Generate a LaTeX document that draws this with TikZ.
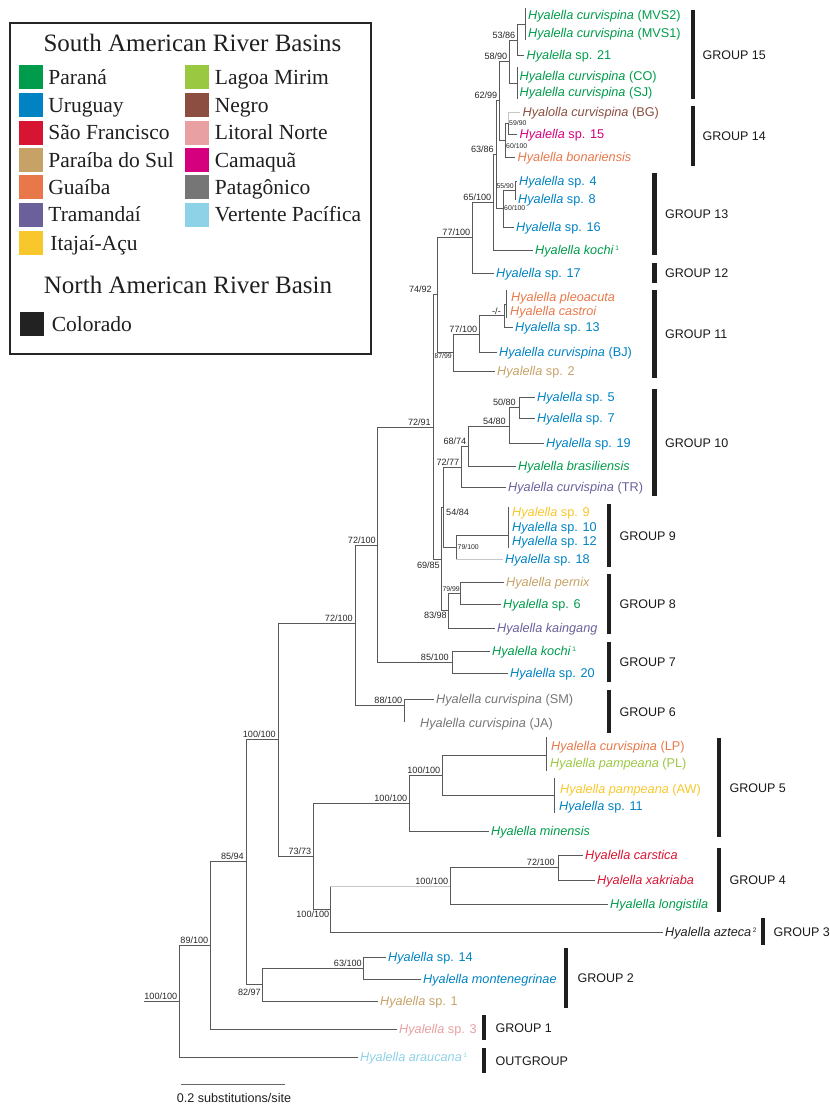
\documentclass[tikz,border=0pt]{standalone}
\usepackage{fontspec}
\usepackage{xcolor}
\usepackage{tikz}
\usetikzlibrary{positioning}
\newfontfamily\treefont{Liberation Sans}
\newfontfamily\legfont{Liberation Serif}
\definecolor{parana}{RGB}{0,155,75}
\definecolor{uruguay}{RGB}{0,130,195}
\definecolor{saofrancisco}{RGB}{215,20,50}
\definecolor{paraiba}{RGB}{198,162,103}
\definecolor{guaiba}{RGB}{232,120,74}
\definecolor{tramandai}{RGB}{108,96,155}
\definecolor{itajai}{RGB}{247,199,43}
\definecolor{lagoamirim}{RGB}{155,200,65}
\definecolor{negro}{RGB}{139,78,64}
\definecolor{litoral}{RGB}{232,160,162}
\definecolor{camaqua}{RGB}{212,0,125}
\definecolor{patagonico}{RGB}{118,118,118}
\definecolor{pacifica}{RGB}{142,210,232}
\definecolor{colorado}{RGB}{34,34,34}
\newcommand{\Hya}{\textit{Hyalella}}
\newcommand{\tipnote}[1]{\kern1.5pt\raisebox{4.5pt}{\fontsize{6.5}{7}\selectfont #1}}
\tikzstyle{branch} = [draw=black!65, line width=0.8pt]
\tikzstyle{faint} = [draw=black!22, line width=0.8pt]
\tikzstyle{tip} = [anchor=west, inner xsep=2.5pt, inner ysep=0pt, text height=9.5pt, text depth=0.4pt, font=\treefont\fontsize{12.7}{14}\selectfont]
\tikzstyle{supp} = [inner sep=0pt, text height=6.6pt, text depth=0pt, text=black!85, font=\treefont\fontsize{9.1}{10}\selectfont]
\tikzstyle{smallsupp} = [supp, text height=5pt, font=\treefont\fontsize{6.9}{8}\selectfont]
\tikzstyle{groupbar} = [fill=black!88, inner sep=0pt, minimum width=4.5pt]
\tikzstyle{grouplabel} = [inner sep=0pt, text height=9pt, text depth=0pt, text=black!90, font=\treefont\fontsize{12.5}{14}\selectfont]
\tikzstyle{swatch} = [minimum size=24pt, inner sep=0pt]
\tikzstyle{legtext} = [inner sep=0pt, text height=15pt, text depth=0.5pt, text=black!88, font=\legfont\fontsize{21.5}{24}\selectfont]
\tikzstyle{legtitle} = [inner sep=0pt, text height=17pt, text depth=0.5pt, text=black!88, font=\legfont\fontsize{25}{28}\selectfont]
\tikzstyle{scalebar} = [draw=black!60, line width=1pt]
\tikzstyle{scaletext} = [inner sep=0pt, text=black!88, font=\treefont\fontsize{12.6}{14}\selectfont]

\begin{document}
\begin{tikzpicture}[x=1pt, y=-1pt]
\useasboundingbox (0,0) rectangle (830,1106);

\draw [draw=black!85, line width=1.6pt] (10,23) rectangle (371,354);
\node (titleSouth) [legtitle] at (192.5,43) {South American River Basins};
\node (swParana) [swatch, fill=parana] at (31,77) {};
\node (lbParana) [legtext, right=5pt of swParana] {Paraná};
\node (swUruguay) [swatch, fill=uruguay] at (31,105) {};
\node (lbUruguay) [legtext, right=5pt of swUruguay] {Uruguay};
\node (swSaoFr) [swatch, fill=saofrancisco] at (31,132.5) {};
\node (lbSaoFr) [legtext, right=5pt of swSaoFr] {São Francisco};
\node (swParaiba) [swatch, fill=paraiba] at (31,160) {};
\node (lbParaiba) [legtext, right=5pt of swParaiba] {Paraíba do Sul};
\node (swGuaiba) [swatch, fill=guaiba] at (31,187) {};
\node (lbGuaiba) [legtext, right=5pt of swGuaiba] {Guaíba};
\node (swTraman) [swatch, fill=tramandai] at (31,214.5) {};
\node (lbTraman) [legtext, right=5pt of swTraman] {Tramandaí};
\node (swItajai) [swatch, fill=itajai] at (31,243) {};
\node (lbItajai) [legtext, right=7pt of swItajai] {Itajaí-Açu};
\node (swLagoa) [swatch, fill=lagoamirim] at (196.5,77) {};
\node (lbLagoa) [legtext, right=6pt of swLagoa] {Lagoa Mirim};
\node (swNegro) [swatch, fill=negro] at (196.5,105) {};
\node (lbNegro) [legtext, right=6pt of swNegro] {Negro};
\node (swLitoral) [swatch, fill=litoral] at (196.5,132.5) {};
\node (lbLitoral) [legtext, right=6pt of swLitoral] {Litoral Norte};
\node (swCamaqua) [swatch, fill=camaqua] at (196.5,160) {};
\node (lbCamaqua) [legtext, right=6pt of swCamaqua] {Camaquã};
\node (swPatag) [swatch, fill=patagonico] at (196.5,187) {};
\node (lbPatag) [legtext, right=6pt of swPatag] {Patagônico};
\node (swPacif) [swatch, fill=pacifica] at (196.5,214.5) {};
\node (lbPacif) [legtext, right=6pt of swPacif] {Vertente Pacífica};
\node (titleNorth) [legtitle] at (188,285) {North American River Basin};
\node (swColorado) [swatch, fill=colorado] at (31.5,324) {};
\node (lbColorado) [legtext, right=8pt of swColorado] {Colorado};

\coordinate (nMVS) at (525,24);
\coordinate (mvsTop) at (525,8);
\coordinate (mvsBot) at (525,40);
\coordinate (n53) at (517,40);
\coordinate (nCOSJ) at (517,83);
\coordinate (cosjTop) at (517,67);
\coordinate (cosjBot) at (517,99);
\coordinate (n58) at (509,61);
\coordinate (n59) at (508,123);
\coordinate (n60a) at (505,140);
\coordinate (n62) at (499,100);
\coordinate (n55) at (515,190);
\coordinate (n60b) at (503,208);
\coordinate (n63) at (496,154);
\coordinate (n65) at (493,202);
\coordinate (n77a) at (472,237);
\coordinate (nPC) at (506,304);
\coordinate (pcTop) at (506,290);
\coordinate (pcBot) at (506,318);
\coordinate (nMinus) at (504,315);
\coordinate (n77b) at (479,334);
\coordinate (n87) at (453,352);
\coordinate (n74) at (437,294);
\coordinate (n50) at (519,407);
\coordinate (n54b) at (509,426);
\coordinate (n68) at (468,446);
\coordinate (n72b) at (461,467);
\coordinate (nG9) at (508,535);
\coordinate (g9Top) at (508,507);
\coordinate (g9Bot) at (508,548);
\coordinate (n79a) at (456,547);
\coordinate (n54a) at (443,507);
\coordinate (n79b) at (460,593);
\coordinate (n83) at (448,610);
\coordinate (n69) at (441,559);
\coordinate (n72a) at (433,427);
\coordinate (n85a) at (452,662);
\coordinate (n72c) at (377,545);
\coordinate (nSMJA) at (404,705);
\coordinate (jaEnd) at (404,722);
\coordinate (n72d) at (355,623);
\coordinate (nLPPL) at (546,755);
\coordinate (lpTop) at (546,737);
\coordinate (lpBot) at (546,771);
\coordinate (nAWSp) at (554,795);
\coordinate (awTop) at (554,778);
\coordinate (awBot) at (554,813);
\coordinate (n100f) at (442,775);
\coordinate (n100e) at (409,803);
\coordinate (nCX) at (558,867);
\coordinate (n100d) at (450,886);
\coordinate (n100c) at (330,909);
\coordinate (n73) at (313,856);
\coordinate (n100b) at (278,739);
\coordinate (n63c) at (363,968);
\coordinate (n82) at (262,984);
\coordinate (n85b) at (246,861);
\coordinate (n89) at (210,945);
\coordinate (nRoot) at (179,1001);
\coordinate (rootStub) at (144,1001);

\node (tMVS2) [tip, text=parana] at (525.5,15) {\textit{Hyalella curvispina} (MVS2)};
\node (tMVS1) [tip, text=parana] at (525.5,33) {\textit{Hyalella curvispina} (MVS1)};
\node (tSp21) [tip, text=parana] at (524,55) {\Hya{} sp. 21};
\node (tCO) [tip, text=parana] at (517,76) {\textit{Hyalella curvispina} (CO)};
\node (tSJ) [tip, text=parana] at (517,92) {\textit{Hyalella curvispina} (SJ)};
\node (tBG) [tip, text=negro] at (520,112) {\textit{Hyalolla curvispina} (BG)};
\node (tSp15) [tip, text=camaqua] at (517,134) {\Hya{} sp. 15};
\node (tBonar) [tip, text=guaiba] at (515,157) {\textit{Hyalella bonariensis}};
\node (tSp4) [tip, text=uruguay] at (516.5,181) {\Hya{} sp. 4};
\node (tSp8) [tip, text=uruguay] at (515.5,199) {\Hya{} sp. 8};
\node (tSp16) [tip, text=uruguay] at (513.5,227) {\Hya{} sp. 16};
\node (tKochiA) [tip, text=parana] at (532.5,250) {\textit{Hyalella kochi}\tipnote{1}};
\node (tSp17) [tip, text=uruguay] at (493.5,273) {\Hya{} sp. 17};
\node (tPleo) [tip, text=guaiba] at (508.5,297) {\textit{Hyalella pleoacuta}};
\node (tCastroi) [tip, text=guaiba] at (507.5,311) {\textit{Hyalella castroi}};
\node (tSp13) [tip, text=uruguay] at (512.5,327) {\Hya{} sp. 13};
\node (tBJ) [tip, text=uruguay] at (496.5,352) {\textit{Hyalella curvispina} (BJ)};
\node (tSp2) [tip, text=paraiba] at (494.5,371) {\Hya{} sp. 2};
\node (tSp5) [tip, text=uruguay] at (534.5,397) {\Hya{} sp. 5};
\node (tSp7) [tip, text=uruguay] at (534.5,418) {\Hya{} sp. 7};
\node (tSp19) [tip, text=uruguay] at (543.5,443) {\Hya{} sp. 19};
\node (tBrasil) [tip, text=parana] at (515.5,466) {\textit{Hyalella brasiliensis}};
\node (tTR) [tip, text=tramandai] at (505.5,487) {\textit{Hyalella curvispina} (TR)};
\node (tSp9) [tip, text=itajai] at (509.5,512) {\Hya{} sp. 9};
\node (tSp10) [tip, text=uruguay] at (509.5,527) {\Hya{} sp. 10};
\node (tSp12) [tip, text=uruguay] at (509.5,541) {\Hya{} sp. 12};
\node (tSp18) [tip, text=uruguay] at (502.5,559) {\Hya{} sp. 18};
\node (tPernix) [tip, text=paraiba] at (503.5,582) {\textit{Hyalella pernix}};
\node (tSp6) [tip, text=parana] at (500.5,604) {\Hya{} sp. 6};
\node (tKaing) [tip, text=tramandai] at (494.5,628) {\textit{Hyalella kaingang}};
\node (tKochiB) [tip, text=parana] at (489.5,651) {\textit{Hyalella kochi}\tipnote{1}};
\node (tSp20) [tip, text=uruguay] at (507.5,673) {\Hya{} sp. 20};
\node (tSM) [tip, text=patagonico] at (433.5,699) {\textit{Hyalella curvispina} (SM)};
\node (tJA) [tip, text=patagonico] at (417.5,723) {\textit{Hyalella curvispina} (JA)};
\node (tLP) [tip, text=guaiba] at (548.5,746) {\textit{Hyalella curvispina} (LP)};
\node (tPL) [tip, text=lagoamirim] at (547.5,763) {\textit{Hyalella pampeana} (PL)};
\node (tAW) [tip, text=itajai] at (557.5,789) {\textit{Hyalella pampeana} (AW)};
\node (tSp11) [tip, text=uruguay] at (556.5,806) {\Hya{} sp. 11};
\node (tMinen) [tip, text=parana] at (488.5,831) {\textit{Hyalella minensis}};
\node (tCarst) [tip, text=saofrancisco] at (582.5,855) {\textit{Hyalella carstica}};
\node (tXakr) [tip, text=saofrancisco] at (594.5,880) {\textit{Hyalella xakriaba}};
\node (tLongi) [tip, text=parana] at (607.5,904) {\textit{Hyalella longistila}};
\node (tAzteca) [tip, text=colorado] at (662.5,932) {\textit{Hyalella azteca}\tipnote{2}};
\node (tSp14) [tip, text=uruguay] at (385.5,957) {\Hya{} sp. 14};
\node (tMonte) [tip, text=uruguay] at (420.5,979) {\textit{Hyalella montenegrinae}};
\node (tSp1) [tip, text=paraiba] at (377.5,1001) {\Hya{} sp. 1};
\node (tSp3) [tip, text=litoral] at (396.5,1029) {\Hya{} sp. 3};
\node (tArauc) [tip, text=pacifica] at (357.5,1057) {\textit{Hyalella araucana}\tipnote{1}};

\draw [branch] (mvsTop) -- (mvsBot);
\draw [branch] (n53) |- (nMVS);
\draw [branch] (n53) |- (tSp21.west);
\draw [branch] (cosjTop) -- (cosjBot);
\draw [branch] (n58) |- (n53);
\draw [branch] (n58) |- (nCOSJ);
\draw [faint] (n59) |- (tBG.west);
\draw [branch] (n59) |- (tSp15.west);
\draw [branch] (n60a) |- (n59);
\draw [branch] (n60a) |- (tBonar.west);
\draw [branch] (n62) |- (n58);
\draw [branch] (n62) |- (n60a);
\draw [branch] (n55) |- (tSp4.west);
\draw [branch] (n55) |- (tSp8.west);
\draw [branch] (n60b) |- (n55);
\draw [branch] (n60b) |- (tSp16.west);
\draw [branch] (n63) |- (n62);
\draw [branch] (n63) |- (n60b);
\draw [branch] (n65) |- (n63);
\draw [branch] (n65) |- (tKochiA.west);
\draw [branch] (n77a) |- (n65);
\draw [branch] (n77a) |- (tSp17.west);
\draw [branch] (pcTop) -- (pcBot);
\draw [branch] (nMinus) |- (nPC);
\draw [branch] (nMinus) |- (tSp13.west);
\draw [branch] (n77b) |- (nMinus);
\draw [branch] (n77b) |- (tBJ.west);
\draw [branch] (n87) |- (n77b);
\draw [branch] (n87) |- (tSp2.west);
\draw [branch] (n74) |- (n77a);
\draw [branch] (n74) |- (n87);
\draw [branch] (n50) |- (tSp5.west);
\draw [branch] (n50) |- (tSp7.west);
\draw [branch] (n54b) |- (n50);
\draw [branch] (n54b) |- (tSp19.west);
\draw [branch] (n68) |- (n54b);
\draw [branch] (n68) |- (tBrasil.west);
\draw [branch] (n72b) |- (n68);
\draw [branch] (n72b) |- (tTR.west);
\draw [branch] (g9Top) -- (g9Bot);
\draw [branch] (n79a) |- (nG9);
\draw [branch] (n79a) -- (n79a |- tSp18);
\draw [faint] (n79a |- tSp18) -- (tSp18.west);
\draw [branch] (n54a) |- (n72b);
\draw [branch] (n54a) |- (n79a);
\draw [branch] (n79b) |- (tPernix.west);
\draw [branch] (n79b) |- (tSp6.west);
\draw [branch] (n83) |- (n79b);
\draw [branch] (n83) |- (tKaing.west);
\draw [branch] (n69) |- (n54a);
\draw [branch] (n69) |- (n83);
\draw [branch] (n72a) |- (n74);
\draw [branch] (n72a) |- (n69);
\draw [branch] (n85a) |- (tKochiB.west);
\draw [branch] (n85a) |- (tSp20.west);
\draw [branch] (n72c) |- (n72a);
\draw [branch] (n72c) |- (n85a);
\draw [branch] (nSMJA) |- (tSM.west);
\draw [branch] (nSMJA) -- (jaEnd);
\draw [branch] (n72d) |- (n72c);
\draw [branch] (n72d) |- (nSMJA);
\draw [branch] (lpTop) -- (lpBot);
\draw [branch] (awTop) -- (awBot);
\draw [branch] (n100f) |- (nLPPL);
\draw [branch] (n100f) |- (nAWSp);
\draw [branch] (n100e) |- (n100f);
\draw [branch] (n100e) |- (tMinen.west);
\draw [branch] (nCX) |- (tCarst.west);
\draw [branch] (nCX) |- (tXakr.west);
\draw [branch] (n100d) |- (nCX);
\draw [branch] (n100d) |- (tLongi.west);
\draw [branch] (n100c) -- (n100c |- n100d);
\draw [faint] (n100c |- n100d) -- (n100d);
\draw [branch] (n100c) |- (tAzteca.west);
\draw [branch] (n73) |- (n100e);
\draw [branch] (n73) |- (n100c);
\draw [branch] (n100b) |- (n72d);
\draw [branch] (n100b) |- (n73);
\draw [branch] (n63c) |- (tSp14.west);
\draw [branch] (n63c) |- (tMonte.west);
\draw [branch] (n82) |- (n63c);
\draw [branch] (n82) |- (tSp1.west);
\draw [branch] (n85b) |- (n100b);
\draw [branch] (n85b) |- (n82);
\draw [branch] (n89) |- (n85b);
\draw [branch] (n89) |- (tSp3.west);
\draw [branch] (nRoot) |- (n89);
\draw [branch] (nRoot) |- (tArauc.west);
\draw [branch] (rootStub) -- (nRoot);

\node (s53) [supp, above left=1.5pt and 1.5pt of n53] {53/86};
\node (s58) [supp, above left=1.5pt and 1.5pt of n58] {58/90};
\node (s62) [supp, above left=1.5pt and 1.5pt of n62] {62/99};
\node (s63) [supp, above left=1.5pt and 2pt of n63] {63/86};
\node (s59) [smallsupp, right=1pt of n59] {59/90};
\node (s60a) [smallsupp, below right=3pt and 1pt of n60a] {60/100};
\node (s55) [smallsupp, above left=1.5pt and 1pt of n55] {55/90};
\node (s60b) [smallsupp, right=1pt of n60b] {60/100};
\node (s65) [supp, above left=1.5pt and 1.5pt of n65] {65/100};
\node (s77a) [supp, above left=1.5pt and 1.5pt of n77a] {77/100};
\node (s74) [supp, above left=1.5pt and 5pt of n74] {74/92};
\node (sMinus) [supp, above left=0.5pt and 3pt of nMinus] {-/-};
\node (s77b) [supp, above left=1.5pt and 1.5pt of n77b] {77/100};
\node (s87) [smallsupp, below left=1.5pt and 1pt of n87] {87/99};
\node (s72a) [supp, above left=1.5pt and 2pt of n72a] {72/91};
\node (s50) [supp, above left=1.5pt and 3pt of n50] {50/80};
\node (s54b) [supp, above left=1.5pt and 3pt of n54b] {54/80};
\node (s68) [supp, above left=1.5pt and 1.5pt of n68] {68/74};
\node (s72b) [supp, above left=1.5pt and 1.5pt of n72b] {72/77};
\node (s54a) [supp, below right=1.5pt and 3pt of n54a] {54/84};
\node (s79a) [smallsupp, right=1.5pt of n79a] {79/100};
\node (s69) [supp, below left=3pt and 1pt of n69] {69/85};
\node (s79b) [smallsupp, above left=1.5pt and 0pt of n79b] {79/99};
\node (s83) [supp, below left=2pt and 1pt of n83] {83/98};
\node (s85a) [supp, above left=1.5pt and 3pt of n85a] {85/100};
\node (s72c) [supp, above left=1.5pt and 1pt of n72c] {72/100};
\node (s72d) [supp, above left=1.5pt and 2pt of n72d] {72/100};
\node (s88) [supp, above left=1.5pt and 1.5pt of nSMJA] {88/100};
\node (s100b) [supp, above left=1.5pt and 2pt of n100b] {100/100};
\node (s100f) [supp, above left=1.5pt and 1.5pt of n100f] {100/100};
\node (s100e) [supp, above left=1.5pt and 1.5pt of n100e] {100/100};
\node (s73) [supp, above left=1.5pt and 1.5pt of n73] {73/73};
\node (s72e) [supp, above left=1.5pt and 3pt of nCX] {72/100};
\node (s100d) [supp, above left=1.5pt and 1.5pt of n100d] {100/100};
\node (s100c) [supp, below left=2pt and 0.5pt of n100c] {100/100};
\node (s85b) [supp, above left=1.5pt and 2pt of n85b] {85/94};
\node (s63c) [supp, above left=1.5pt and 1pt of n63c] {63/100};
\node (s82) [supp, below left=5pt and 1pt of n82] {82/97};
\node (s89) [supp, above left=1.5pt and 1.5pt of n89] {89/100};
\node (sRoot) [supp, above left=1.5pt and 1.5pt of nRoot] {100/100};

\node (bar15) [groupbar, minimum height=89pt] at (693,54.5) {};
\node (grp15) [grouplabel, right=7pt of bar15] {GROUP 15};
\node (bar14) [groupbar, minimum height=60pt] at (693,136) {};
\node (grp14) [grouplabel, right=7pt of bar14] {GROUP 14};
\node (bar13) [groupbar, minimum height=82pt] at (654.5,214) {};
\node (grp13) [grouplabel, right=8pt of bar13] {GROUP 13};
\node (bar12) [groupbar, minimum height=20pt] at (654.5,273) {};
\node (grp12) [grouplabel, right=8pt of bar12] {GROUP 12};
\node (bar11) [groupbar, minimum height=88pt] at (654.5,334) {};
\node (grp11) [grouplabel, right=8pt of bar11] {GROUP 11};
\node (bar10) [groupbar, minimum height=107pt] at (654.5,442.5) {};
\node (grp10) [grouplabel, right=8pt of bar10] {GROUP 10};
\node (bar9) [groupbar, minimum height=63pt] at (609,535.5) {};
\node (grp9) [grouplabel, right=8pt of bar9] {GROUP 9};
\node (bar8) [groupbar, minimum height=60pt] at (609,604) {};
\node (grp8) [grouplabel, right=8pt of bar8] {GROUP 8};
\node (bar7) [groupbar, minimum height=40pt] at (609,662) {};
\node (grp7) [grouplabel, right=8pt of bar7] {GROUP 7};
\node (bar6) [groupbar, minimum height=43pt] at (609,711.5) {};
\node (grp6) [grouplabel, right=8pt of bar6] {GROUP 6};
\node (bar5) [groupbar, minimum height=99pt] at (719,787.5) {};
\node (grp5) [grouplabel, right=8pt of bar5] {GROUP 5};
\node (bar4) [groupbar, minimum height=64pt] at (719,880) {};
\node (grp4) [grouplabel, right=8pt of bar4] {GROUP 4};
\node (bar3) [groupbar, minimum height=27pt] at (763,931.5) {};
\node (grp3) [grouplabel, right=8pt of bar3] {GROUP 3};
\node (bar2) [groupbar, minimum height=60pt] at (566,978) {};
\node (grp2) [grouplabel, right=9pt of bar2] {GROUP 2};
\node (bar1) [groupbar, minimum height=25pt] at (484,1027.5) {};
\node (grp1) [grouplabel, right=9pt of bar1] {GROUP 1};
\node (barOut) [groupbar, minimum height=25pt] at (484,1060.5) {};
\node (grpOut) [grouplabel, right=9pt of barOut] {OUTGROUP};

\coordinate (scaleL) at (181,1084);
\coordinate (scaleR) at (285,1084);
\draw [scalebar] (scaleL) -- (scaleR);
\node (scaleLabel) [scaletext] at (234,1098) {0.2 substitutions/site};
\end{tikzpicture}
\end{document}
